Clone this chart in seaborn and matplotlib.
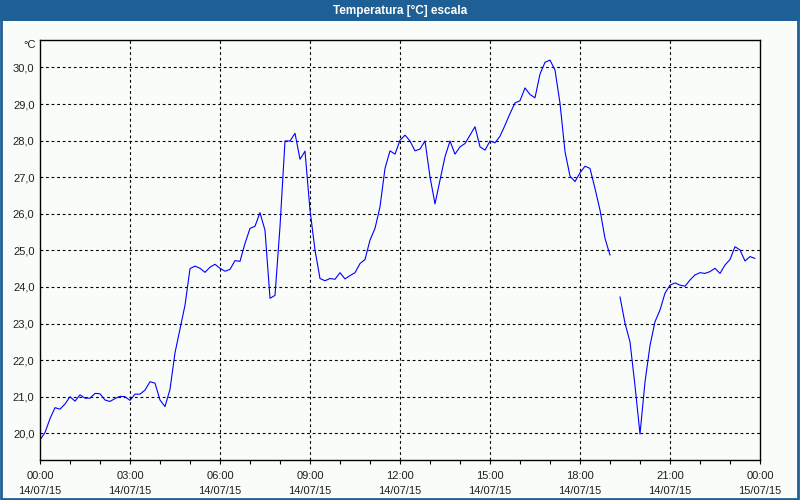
import numpy as np
import pandas as pd
import seaborn as sns
import matplotlib
matplotlib.use("Agg")
import matplotlib.pyplot as plt
from matplotlib.patches import Rectangle

# ---- data (10-minute samples, 14/07/15 00:00 .. 23:50) ----
temperature = [
    19.82, 20.02, 20.40, 20.70, 20.66, 20.80, 21.00, 20.88, 21.05, 20.96,
    20.96, 21.09, 21.08, 20.91, 20.87, 20.95, 21.01, 21.00, 20.90, 21.07,
    21.07, 21.18, 21.41, 21.37, 20.91, 20.73, 21.20, 22.20, 22.85, 23.50,
    24.50, 24.57, 24.51, 24.40, 24.54, 24.62, 24.51, 24.43, 24.48, 24.72,
    24.70, 25.19, 25.60, 25.66, 26.03, 25.55, 23.69, 23.77, 25.65, 27.99,
    27.99, 28.20, 27.49, 27.71, 26.10, 25.01, 24.23, 24.17, 24.23, 24.21,
    24.39, 24.22, 24.31, 24.39, 24.64, 24.75, 25.28, 25.60, 26.19, 27.24,
    27.72, 27.63, 28.01, 28.15, 27.99, 27.72, 27.77, 27.99, 27.01, 26.27,
    26.92, 27.56, 27.99, 27.63, 27.83, 27.92, 28.15, 28.38, 27.83, 27.74,
    27.99, 27.94, 28.12, 28.42, 28.74, 29.03, 29.09, 29.44, 29.26, 29.17,
    29.82, 30.14, 30.20, 29.93, 29.02, 27.70, 27.03, 26.88, 27.12, 27.30,
    27.24, 26.69, 26.10, 25.33, 24.87, np.nan, 23.73, 23.01, 22.50, 21.30,
    19.98, 21.40, 22.40, 23.05, 23.37, 23.83, 24.05, 24.11, 24.05, 24.02,
    24.19, 24.33, 24.39, 24.37, 24.42, 24.51, 24.37, 24.60, 24.75, 25.10,
    25.01, 24.71, 24.83, 24.78,
]
sample_minutes = 10
tick_hours = [0, 3, 6, 9, 12, 15, 18, 21, 24]
tick_labels = ["00:00\n14/07/15", "03:00\n14/07/15", "06:00\n14/07/15",
               "09:00\n14/07/15", "12:00\n14/07/15", "15:00\n14/07/15",
               "18:00\n14/07/15", "21:00\n14/07/15", "00:00\n15/07/15"]
y_ticks = [20, 21, 22, 23, 24, 25, 26, 27, 28, 29, 30]
title = "Temperatura [°C] escala"
unit = "°C"

# ---- build frame (split at gaps so the line breaks) ----
vals = np.array(temperature, dtype=float)
hours = np.arange(len(vals)) * sample_minutes / 60.0
seg = np.cumsum(np.isnan(vals))
df = pd.DataFrame({"t": hours, "v": vals, "seg": seg}).dropna()

sns.set_style("white")
plt.rcParams["font.family"] = ["Liberation Sans", "DejaVu Sans"]

bg = "#fafcfa"
frame_blue = "#1e5f96"

fig = plt.figure(figsize=(8, 5), dpi=100, facecolor=bg)
ax = fig.add_axes([40 / 800, 1 - 460 / 500, 720 / 800, 420 / 500])
ax.set_facecolor(bg)

sns.lineplot(data=df, x="t", y="v", units="seg", estimator=None,
             color="#0000ff", linewidth=0.8, ax=ax, legend=False)

ax.set_xlim(0, 24)
ax.set_ylim(19.27, 30.75)
ax.set_xlabel("")
ax.set_ylabel("")

ax.set_xticks(tick_hours)
ax.set_xticklabels(tick_labels, linespacing=1.55)
ax.set_xticks(np.arange(0, 25, 1), minor=True)
ax.set_yticks(y_ticks)
ax.set_yticklabels([f"{v:.1f}".replace(".", ",") for v in y_ticks])

ax.tick_params(axis="x", which="both", direction="out", length=3, width=0.8,
               color="black", labelsize=8, labelcolor="#202020", pad=5,
               bottom=True)
ax.tick_params(axis="y", which="both", length=0, labelsize=8,
               labelcolor="#202020", pad=4, left=True)

for s in ax.spines.values():
    s.set_visible(True)
    s.set_color("black")
    s.set_linewidth(1.0)

# dashed grid
for h in tick_hours[1:-1]:
    ax.axvline(h, color="black", linewidth=0.8, linestyle=(0, (2.5, 2.5)), zorder=0)
for v in y_ticks:
    ax.axhline(v, color="black", linewidth=0.8, linestyle=(0, (2.5, 2.5)), zorder=0)

# unit label
fig.text(36 / 800, 1 - 45 / 500, unit, ha="right", va="center",
         fontsize=8, color="#202020")

# title bar and window frame
fig.patches.append(Rectangle((0, 1 - 21 / 500), 1, 21 / 500,
                             transform=fig.transFigure, facecolor=frame_blue,
                             edgecolor="none", zorder=0))
fig.text(0.5, 1 - 10.5 / 500, title, ha="center", va="center",
         fontsize=8.5, fontweight="bold", color="white")
fig.patches.append(Rectangle((0.001, 0.002), 0.997, 0.996,
                             transform=fig.transFigure, facecolor="none",
                             edgecolor=frame_blue, linewidth=2.0, zorder=5))

fig.savefig("out.png", dpi=100, facecolor=bg)
